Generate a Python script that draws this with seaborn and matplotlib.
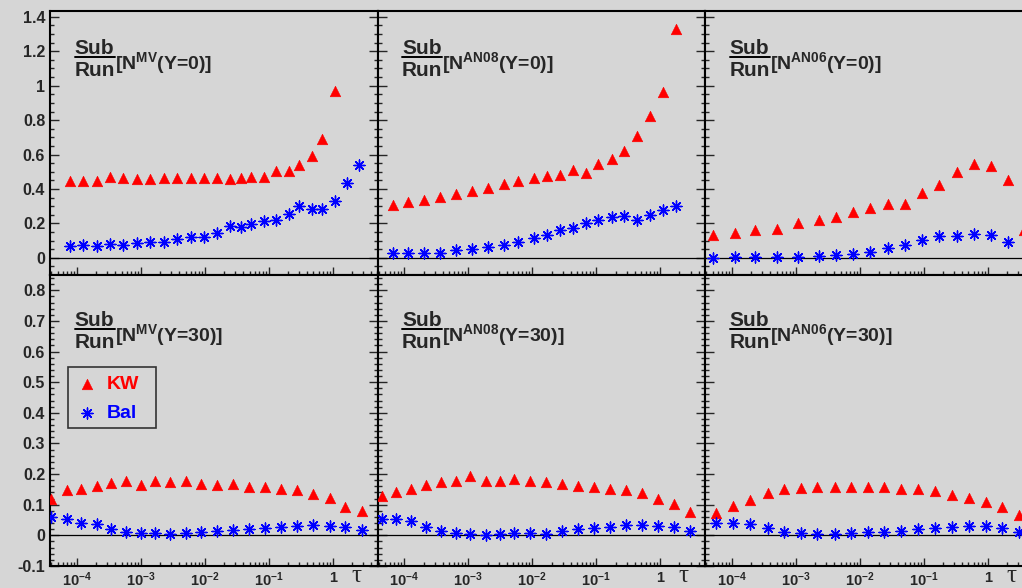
import numpy as np
import matplotlib
matplotlib.use("Agg")
import matplotlib.pyplot as plt
import seaborn as sns
from matplotlib.ticker import MultipleLocator, LogLocator, FixedLocator, NullFormatter, FuncFormatter
from matplotlib.patches import Rectangle
from matplotlib.lines import Line2D

# ---------------- data ----------------
TAU_MV_Y0 = [7.76e-5, 1.26e-4, 2.04e-4, 3.31e-4, 5.25e-4, 8.71e-4, 1.41e-3, 2.29e-3, 3.63e-3, 6.03e-3,
             9.55e-3, 1.55e-2, 2.45e-2, 3.63e-2, 5.37e-2, 8.32e-2, 0.129, 0.204, 0.302, 0.468, 0.692,
             1.07, 1.66, 2.57]
KW_MV_Y0 = [0.448, 0.448, 0.448, 0.467, 0.461, 0.458, 0.458, 0.461, 0.461, 0.463, 0.463, 0.461, 0.458,
            0.463, 0.467, 0.471, 0.502, 0.502, 0.540, 0.590, 0.692, 0.967]
BAL_MV_Y0 = [0.067, 0.072, 0.067, 0.079, 0.077, 0.085, 0.091, 0.092, 0.108, 0.119, 0.121, 0.146, 0.183,
             0.179, 0.194, 0.213, 0.217, 0.254, 0.302, 0.285, 0.281, 0.331, 0.432, 0.540]

TAU_AN08_Y0 = [6.61e-5, 1.15e-4, 2.04e-4, 3.63e-4, 6.46e-4, 1.15e-3, 2.00e-3, 3.55e-3, 6.03e-3, 1.07e-2,
               1.70e-2, 2.75e-2, 4.37e-2, 6.92e-2, 0.107, 0.178, 0.275, 0.437, 0.692, 1.12, 1.78]
KW_AN08_Y0 = [0.308, 0.323, 0.337, 0.356, 0.371, 0.386, 0.404, 0.429, 0.444, 0.464, 0.477, 0.483, 0.510,
              0.490, 0.544, 0.573, 0.621, 0.708, 0.823, 0.961, 1.332]
BAL_AN08_Y0 = [0.025, 0.025, 0.029, 0.029, 0.044, 0.050, 0.060, 0.073, 0.089, 0.115, 0.131, 0.164, 0.175,
               0.202, 0.221, 0.236, 0.240, 0.221, 0.246, 0.275, 0.300]

TAU_AN06_Y0 = [5.13e-5, 1.10e-4, 2.34e-4, 5.01e-4, 1.07e-3, 2.29e-3, 4.27e-3, 7.94e-3, 1.45e-2, 2.75e-2,
               5.01e-2, 9.33e-2, 0.174, 0.331, 0.617, 1.12, 2.04, 3.63]
KW_AN06_Y0 = [0.131, 0.146, 0.160, 0.170, 0.202, 0.221, 0.236, 0.264, 0.287, 0.310, 0.310, 0.375, 0.425,
              0.496, 0.544, 0.531, 0.452, 0.160]
BAL_AN06_Y0 = [0.000, 0.002, 0.002, 0.002, 0.006, 0.010, 0.016, 0.021, 0.035, 0.058, 0.077, 0.106, 0.127,
               0.127, 0.141, 0.135, 0.089]

TAU_MV_Y30 = [3.98e-5, 7.08e-5, 1.17e-4, 2.04e-4, 3.47e-4, 5.89e-4, 1.00e-3, 1.66e-3, 2.88e-3, 5.01e-3,
              8.71e-3, 1.55e-2, 2.75e-2, 4.90e-2, 8.71e-2, 0.158, 0.275, 0.490, 0.891, 1.58, 2.82]
KW_MV_Y30 = [0.120, 0.147, 0.150, 0.160, 0.172, 0.177, 0.164, 0.178, 0.175, 0.179, 0.169, 0.166, 0.169,
             0.157, 0.158, 0.150, 0.147, 0.136, 0.122, 0.091, 0.080]
BAL_MV_Y30 = [0.060, 0.055, 0.041, 0.036, 0.022, 0.011, 0.009, 0.009, 0.005, 0.009, 0.011, 0.014, 0.016,
              0.020, 0.024, 0.027, 0.031, 0.033, 0.031, 0.027, 0.016]

TAU_AN08_Y30 = [4.47e-5, 7.50e-5, 1.29e-4, 2.19e-4, 3.72e-4, 6.31e-4, 1.07e-3, 1.86e-3, 3.09e-3, 5.25e-3,
                9.33e-3, 1.66e-2, 2.88e-2, 5.13e-2, 9.12e-2, 0.162, 0.295, 0.525, 0.933, 1.62, 2.95]
KW_AN08_Y30 = [0.129, 0.140, 0.153, 0.166, 0.175, 0.177, 0.193, 0.178, 0.178, 0.183, 0.177, 0.173, 0.169,
               0.162, 0.158, 0.153, 0.147, 0.139, 0.120, 0.104, 0.076]
BAL_AN08_Y30 = [0.055, 0.052, 0.047, 0.027, 0.014, 0.009, 0.005, 0.002, 0.005, 0.008, 0.009, 0.005, 0.014,
                0.020, 0.024, 0.027, 0.033, 0.033, 0.031, 0.027, 0.014]

TAU_AN06_Y30 = [5.75e-5, 1.05e-4, 1.91e-4, 3.63e-4, 6.61e-4, 1.20e-3, 2.14e-3, 4.07e-3, 7.41e-3, 1.35e-2,
                2.40e-2, 4.47e-2, 8.13e-2, 0.151, 0.275, 0.501, 0.933, 1.70, 3.09]
KW_AN06_Y30 = [0.074, 0.096, 0.116, 0.138, 0.151, 0.154, 0.159, 0.159, 0.159, 0.159, 0.157, 0.153, 0.151,
               0.146, 0.132, 0.123, 0.109, 0.094, 0.067]
BAL_AN06_Y30 = [0.041, 0.041, 0.038, 0.025, 0.012, 0.007, 0.005, 0.005, 0.009, 0.011, 0.012, 0.014, 0.020,
                0.025, 0.028, 0.031, 0.031, 0.023, 0.012]

MODELS = ["MV", "AN08", "AN06"]
RAPIDITIES = ["0", "30"]
X_TICKS = [1e-4, 1e-3, 1e-2, 1e-1, 1]
X_TICK_LABELS = [r"$10^{-4}$", r"$10^{-3}$", r"$10^{-2}$", r"$10^{-1}$", "1"]
SERIES_NAMES = ["KW", "Bal"]

PANELS = [
    [(TAU_MV_Y0, KW_MV_Y0, BAL_MV_Y0), (TAU_AN08_Y0, KW_AN08_Y0, BAL_AN08_Y0), (TAU_AN06_Y0, KW_AN06_Y0, BAL_AN06_Y0)],
    [(TAU_MV_Y30, KW_MV_Y30, BAL_MV_Y30), (TAU_AN08_Y30, KW_AN08_Y30, BAL_AN08_Y30), (TAU_AN06_Y30, KW_AN06_Y30, BAL_AN06_Y30)],
]

# ---------------- style ----------------
BG = "#d6d6d6"
sns.set_theme(style="ticks", rc={"axes.facecolor": BG, "figure.facecolor": BG,
                                 "axes.edgecolor": "black", "axes.linewidth": 1.5})
plt.rcParams["font.family"] = ["Liberation Sans", "DejaVu Sans"]
plt.rcParams["font.weight"] = "bold"
plt.rcParams["mathtext.fontset"] = "custom"
for k in ["rm", "bf", "it", "sf"]:
    plt.rcParams["mathtext." + k] = "Liberation Sans:bold"
plt.rcParams["mathtext.default"] = "bf"

W, H = 1022, 588
fig = plt.figure(figsize=(W / 100, H / 100), dpi=100, facecolor=BG)

COL_LEFT = [50, 377.5, 705]
COL_W = 327.5
ROWS = [(11, 275), (275, 566)]
YLIMS = [(-0.1, 1.434), (-0.1, 0.85)]

for r in range(2):
    top, bot = ROWS[r]
    ph = bot - top
    for c in range(3):
        ax = fig.add_axes([COL_LEFT[c] / W, 1 - bot / H, COL_W / W, ph / H])
        ax.set_facecolor(BG)
        tau, kw, bal = PANELS[r][c]
        ax.axhline(0, color="black", lw=0.9, zorder=1)
        sns.scatterplot(x=tau[:len(kw)], y=kw, marker="^", s=58, color="red", edgecolor="red",
                        linewidth=0.4, ax=ax, label=SERIES_NAMES[0], legend=False, zorder=4)
        sns.scatterplot(x=tau[:len(bal)], y=bal, marker=(8, 2, 0), s=62, color="blue",
                        linewidth=1.0, ax=ax, label=SERIES_NAMES[1], legend=False, zorder=4)
        ax.set_xscale("log")
        ax.set_xlim(10 ** -4.42, 10 ** 0.70)
        ax.set_ylim(*YLIMS[r])
        ax.set_xlabel("")
        ax.set_ylabel("")
        for s in ax.spines.values():
            s.set_visible(True)
            s.set_linewidth(1.5)
        ax.xaxis.set_major_locator(FixedLocator(X_TICKS))
        ax.xaxis.set_minor_locator(LogLocator(base=10, subs=np.arange(2, 10), numticks=30))
        ax.xaxis.set_minor_formatter(NullFormatter())
        if r == 1:
            ax.set_xticklabels(X_TICK_LABELS)
        else:
            ax.set_xticklabels([])
        if r == 0:
            ax.yaxis.set_major_locator(MultipleLocator(0.2))
            ax.yaxis.set_minor_locator(MultipleLocator(0.05))
        else:
            ax.yaxis.set_major_locator(MultipleLocator(0.1))
            ax.yaxis.set_minor_locator(MultipleLocator(0.02))
        ax.yaxis.set_major_formatter(FuncFormatter(lambda v, p: f"{round(v, 3):g}"))
        ax.tick_params(axis="x", which="major", direction="in", length=5.8, width=1.0,
                       top=False, bottom=True, labelsize=10.5, pad=3.5, labelbottom=(r == 1))
        ax.tick_params(axis="x", which="minor", direction="in", length=2.9, width=1.0, top=False, bottom=True)
        ax.tick_params(axis="y", which="major", direction="in", length=6.5, width=1.0,
                       left=True, right=True, labelsize=11.5, pad=3.5, labelleft=(c == 0))
        ax.tick_params(axis="y", which="minor", direction="in", length=3.2, width=1.0, left=True, right=True)

        # annotation  Sub/Run [N^model(Y=..)]
        dy = 0 if r == 0 else 8
        fx = lambda px: px / COL_W
        fy = lambda py: 1 - (py + dy) / ph
        ax.text(fx(44.5), fy(42.8), "Sub", ha="center", va="baseline", fontsize=15,
                weight="bold", transform=ax.transAxes)
        ax.text(fx(44.5), fy(64.8), "Run", ha="center", va="baseline", fontsize=15,
                weight="bold", transform=ax.transAxes)
        ax.add_line(Line2D([fx(24.5), fx(64.5)], [fy(45.9), fy(45.9)], transform=ax.transAxes,
                           color="black", lw=1.4))
        ax.text(fx(64.5), fy(58.3), "[N$^{" + MODELS[c] + "}$(Y=" + RAPIDITIES[r] + ")]",
                ha="left", va="baseline", fontsize=14, weight="bold", transform=ax.transAxes)

        if r == 1:
            ax.text(fx(306), -(576 - 566) / ph, "τ", ha="center", va="center", fontsize=18,
                    family="Liberation Serif", weight="normal", transform=ax.transAxes, clip_on=False)

        if r == 1 and c == 0:
            bx0, by0, bx1, by1 = 68.3, 366.7, 156, 428.3
            ax.add_patch(Rectangle((fx(bx0 - COL_LEFT[0]), 1 - (by1 - top) / ph),
                                   (bx1 - bx0) / COL_W, (by1 - by0) / ph, transform=ax.transAxes,
                                   facecolor=BG, edgecolor="#333333", lw=1.2, zorder=5))
            leg = ax.legend(loc="upper left", bbox_to_anchor=(fx(bx0 - COL_LEFT[0] + 9), 1 - (by0 + 8.5 - top) / ph),
                            frameon=False, borderpad=0, borderaxespad=0, handlelength=1.0,
                            handletextpad=0.5, labelspacing=0.62,
                            prop={"weight": "bold", "size": 14}, labelcolor=["red", "blue"])
            leg.set_zorder(6)

fig.savefig("out.png", dpi=100, facecolor=BG)
